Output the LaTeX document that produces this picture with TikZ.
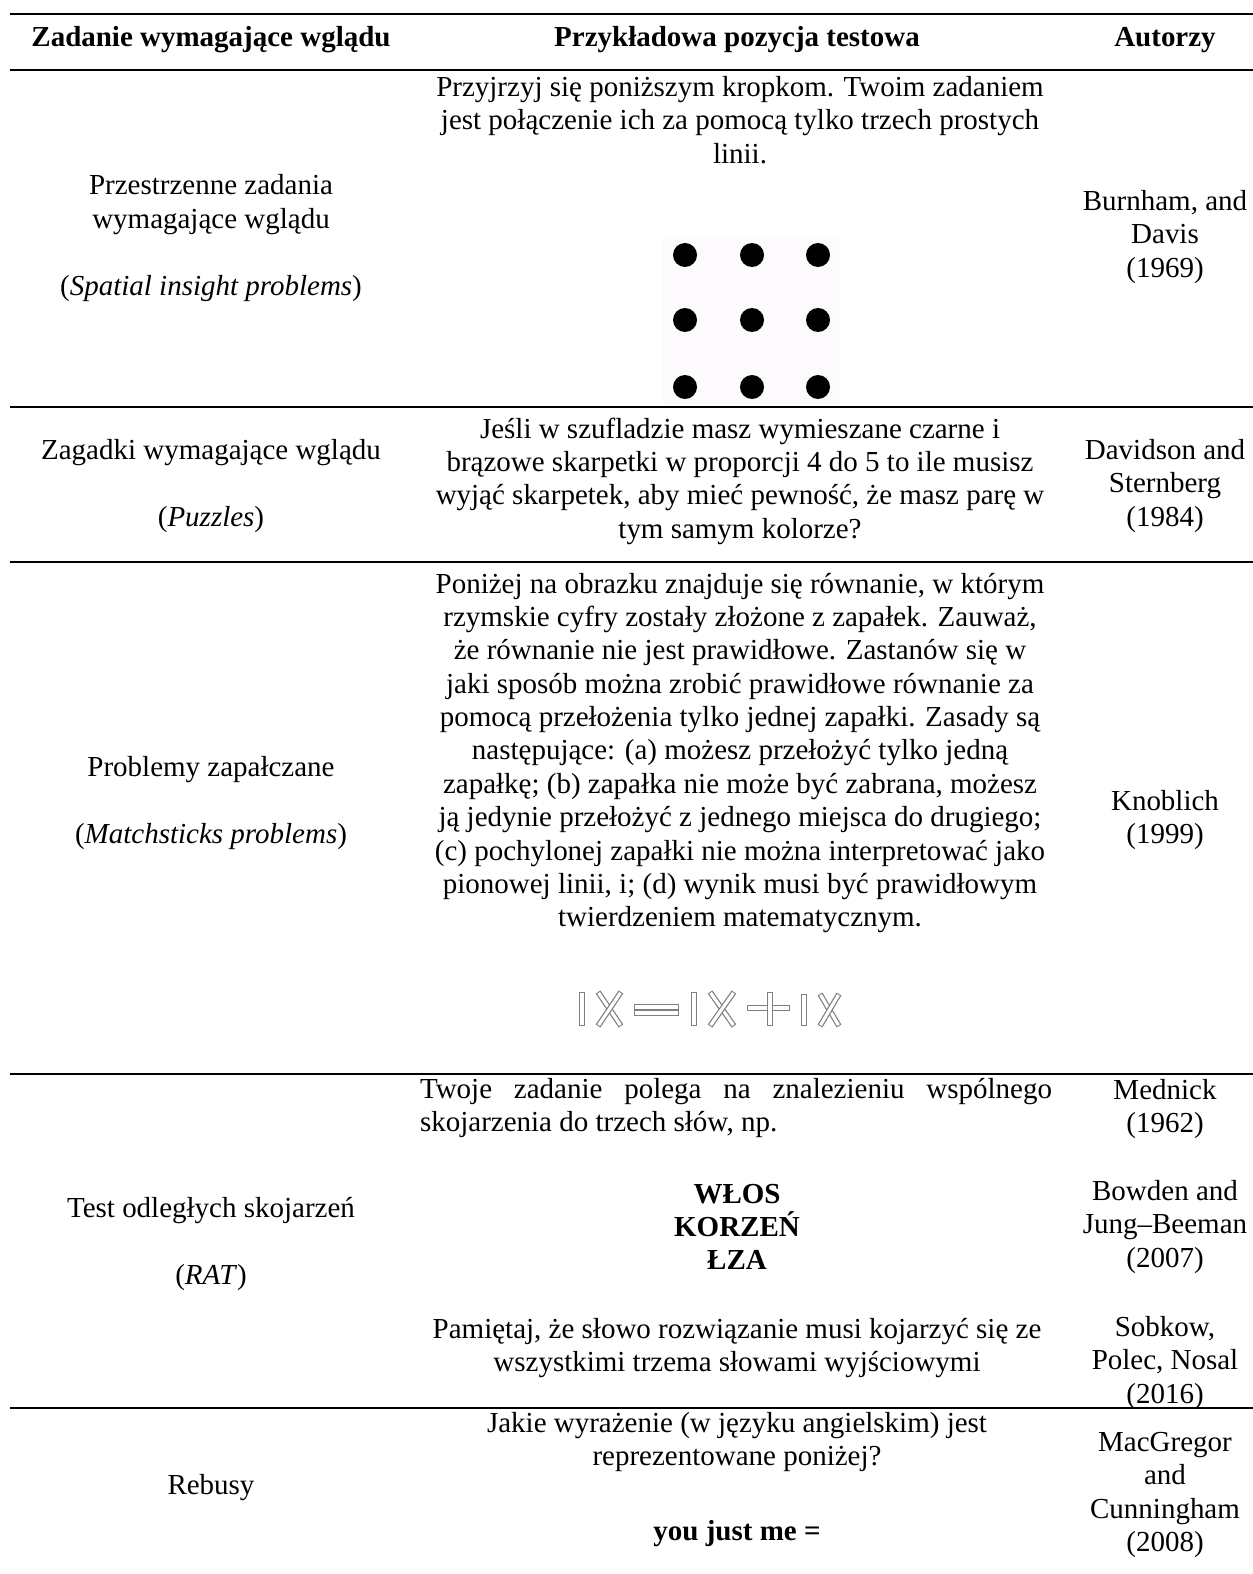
\documentclass[tikz,border=0pt]{standalone}
\usepackage{fontspec}
\setmainfont{Liberation Serif}
\definecolor{dotbg}{RGB}{253,250,253}
\tikzset{
    cell/.style={align=center, inner sep=0pt, font=\fontsize{16.5}{19}\selectfont},
    boldcell/.style={cell, font=\fontsize{16.5}{19}\selectfont\bfseries},
    rule/.style={line width=1.6pt},
}
% one matchstick: grey outline, white inside
\newcommand{\matchstick}[2]{%
    \draw[line width=3.2pt, black!50] #1 -- #2;
    \draw[line width=1.8pt, white, shorten <=0.6pt, shorten >=0.6pt] #1 -- #2;}
\begin{document}
\begin{tikzpicture}[x=0.02cm, y=-0.02cm]
    \useasboundingbox (0,0) rectangle (1253,1574);

    % Rules of the table
    \foreach \r in {14,70,407,562,1074,1408}
    {
        \draw[rule] (10,\r) -- (1253,\r);
    }

    % Header
    \node[boldcell] (HeadTask) at (211,40) {Zadanie wymagające wglądu};
    \node[boldcell] (HeadItem) at (737,40) {Przykładowa pozycja testowa};
    \node[boldcell] (HeadAuthors) at (1165,40) {Autorzy};

    % Spatial problems
    \node[cell] (SpatialTask) at (211,238) {Przestrzenne zadania\\wymagające wglądu\\[19pt](\textit{Spatial insight problems})};
    \node[cell] (SpatialItem) at (740,120) {Przyjrzyj się poniższym kropkom. Twoim zadaniem\\jest połączenie ich za pomocą tylko trzech prostych\\linii.};
    \node[cell] (SpatialAuthors) at (1165,237) {Burnham, and\\Davis\\(1969)};
    \fill[dotbg] (663,236) rectangle (840,405);
    \foreach \x in {685,752,818}
    \foreach \y in {255,320,387}
    {
        \fill (\x,\y) circle (0.24cm);
    }

    % Puzzles
    \node[cell] (PuzzleTask) at (211,486) {Zagadki wymagające wglądu\\[19pt](\textit{Puzzles})};
    \node[cell] (PuzzleItem) at (740,481) {Jeśli w szufladzie masz wymieszane czarne i\\brązowe skarpetki w proporcji 4 do 5 to ile musisz\\wyjąć skarpetek, aby mieć pewność, że masz parę w\\tym samym kolorze?};
    \node[cell] (PuzzleAuthors) at (1165,486) {Davidson and\\Sternberg\\(1984)};

    % Matchsticks
    \node[cell] (MatchTask) at (211,803) {Problemy zapałczane\\[19pt](\textit{Matchsticks problems})};
    \node[cell] (MatchItem) at (740,753) {Poniżej na obrazku znajduje się równanie, w którym\\rzymskie cyfry zostały złożone z zapałek. Zauważ,\\że równanie nie jest prawidłowe. Zastanów się w\\jaki sposób można zrobić prawidłowe równanie za\\pomocą przełożenia tylko jednej zapałki. Zasady są\\następujące: (a) możesz przełożyć tylko jedną\\zapałkę; (b) zapałka nie może być zabrana, możesz\\ją jedynie przełożyć z jednego miejsca do drugiego;\\(c) pochylonej zapałki nie można interpretować jako\\pionowej linii, i; (d) wynik musi być prawidłowym\\twierdzeniem matematycznym.};
    \node[cell] (MatchAuthors) at (1165,820) {Knoblich\\(1999)};
    % IX = IX + IX
    \foreach \a/\b in {{582,992}/{582,1026}, {598,992}/{621,1026}, {621,992}/{598,1026},
        {634,1007}/{679,1007}, {634,1013}/{679,1013},
        {694,992}/{694,1026}, {710,992}/{734,1026}, {734,992}/{710,1026},
        {747,1008}/{790,1008}, {770,992}/{770,1026},
        {804,994}/{804,1026}, {820,994}/{839,1026}, {839,994}/{820,1026}}
    {
        \matchstick{(\a)}{(\b)}
    }

    % Remote associates test
    \node[cell] (RatTask) at (211,1244) {Test odległych skojarzeń\\[19pt](\textit{RAT})};
    \node[cell, text width=12.64cm, align=justify] (RatIntro) at (736,1108) {Twoje zadanie polega na znalezieniu wspólnego\linebreak skojarzenia do trzech słów, np.};
    \node[boldcell] (RatWords) at (737,1227) {WŁOS\\KORZEŃ\\ŁZA};
    \node[cell] (RatNote) at (737,1348) {Pamiętaj, że słowo rozwiązanie musi kojarzyć się ze\\wszystkimi trzema słowami wyjściowymi};
    \node[cell] (RatAuthorsA) at (1165,1109) {Mednick\\(1962)};
    \node[cell] (RatAuthorsB) at (1165,1227) {Bowden and\\Jung–Beeman\\(2007)};
    \node[cell] (RatAuthorsC) at (1165,1363) {Sobkow,\\Polec, Nosal\\(2016)};

    % Rebuses
    \node[cell] (RebusTask) at (211,1488) {Rebusy};
    \node[cell] (RebusItem) at (737,1442) {Jakie wyrażenie (w języku angielskim) jest\\reprezentowane poniżej?};
    \node[boldcell] (RebusWords) at (737,1534) {you just me =};
    \node[cell] (RebusAuthors) at (1165,1495) {MacGregor\\and\\Cunningham\\(2008)};
\end{tikzpicture}
\end{document}
